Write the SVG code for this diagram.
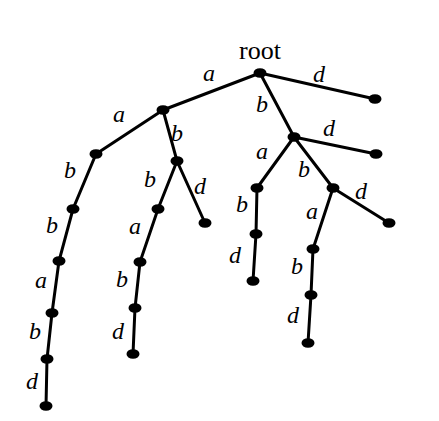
<svg xmlns="http://www.w3.org/2000/svg" width="439" height="421" viewBox="0 0 439 421">
<style>
.e{stroke:#000;stroke-width:3;fill:none;stroke-linecap:round}
.n{fill:#000}
.l{font-family:"Liberation Serif",serif;font-style:italic;font-size:24px;text-anchor:middle;fill:#000}
.r{font-family:"Liberation Serif",serif;font-size:26px;text-anchor:middle;fill:#000}
</style>
<rect width="439" height="421" fill="#fff"/>
<g id="connectors" class="e">
<path d="M260,73 L163,110"/>
<path d="M260,73 L375,99"/>
<path d="M260,73 L294,137"/>
<path d="M294,137 L376,154"/>
<path d="M294,137 L257,188"/>
<path d="M294,137 L333,188"/>
<path d="M333,188 L389,223"/>
<path d="M257,188 L256,234 L253,281"/>
<path d="M333,188 L313,249 L311,295 L308,343"/>
<path d="M163,110 L96,154 L73,209 L59,261 L52,313 L47,359 L46,406"/>
<path d="M163,110 L177,161 L205,223"/>
<path d="M177,161 L158,209 L140,262 L135,308 L133,354"/>
</g>
<g id="root"><ellipse class="n" cx="260" cy="73" rx="6.5" ry="4.8"/><text class="r" x="260" y="59">root</text></g>
<g id="n_d"><ellipse class="n" cx="375" cy="99" rx="6.5" ry="4.8"/></g>
<g id="n_b"><ellipse class="n" cx="294" cy="137" rx="6.5" ry="4.8"/></g>
<g id="n_bd"><ellipse class="n" cx="376" cy="154" rx="6.5" ry="4.8"/></g>
<g id="n_ba"><ellipse class="n" cx="257" cy="188" rx="6.5" ry="4.8"/></g>
<g id="n_bb"><ellipse class="n" cx="333" cy="188" rx="6.5" ry="4.8"/></g>
<g id="n_bbd"><ellipse class="n" cx="389" cy="223" rx="6.5" ry="4.8"/></g>
<g id="n_bab"><ellipse class="n" cx="256" cy="234" rx="6.5" ry="4.8"/></g>
<g id="n_babd"><ellipse class="n" cx="253" cy="281" rx="6.5" ry="4.8"/></g>
<g id="n_bba"><ellipse class="n" cx="313" cy="249" rx="6.5" ry="4.8"/></g>
<g id="n_bbab"><ellipse class="n" cx="311" cy="295" rx="6.5" ry="4.8"/></g>
<g id="n_bbabd"><ellipse class="n" cx="308" cy="343" rx="6.5" ry="4.8"/></g>
<g id="n_a"><ellipse class="n" cx="163" cy="110" rx="6.5" ry="4.8"/></g>
<g id="n_aa"><ellipse class="n" cx="96" cy="154" rx="6.5" ry="4.8"/></g>
<g id="n_aab"><ellipse class="n" cx="73" cy="209" rx="6.5" ry="4.8"/></g>
<g id="n_aabb"><ellipse class="n" cx="59" cy="261" rx="6.5" ry="4.8"/></g>
<g id="n_aabba"><ellipse class="n" cx="52" cy="313" rx="6.5" ry="4.8"/></g>
<g id="n_aabbab"><ellipse class="n" cx="47" cy="359" rx="6.5" ry="4.8"/></g>
<g id="n_aabbabd"><ellipse class="n" cx="46" cy="406" rx="6.5" ry="4.8"/></g>
<g id="n_ab"><ellipse class="n" cx="177" cy="161" rx="6.5" ry="4.8"/></g>
<g id="n_abd"><ellipse class="n" cx="205" cy="223" rx="6.5" ry="4.8"/></g>
<g id="n_abb"><ellipse class="n" cx="158" cy="209" rx="6.5" ry="4.8"/></g>
<g id="n_abba"><ellipse class="n" cx="140" cy="262" rx="6.5" ry="4.8"/></g>
<g id="n_abbab"><ellipse class="n" cx="135" cy="308" rx="6.5" ry="4.8"/></g>
<g id="n_abbabd"><ellipse class="n" cx="133" cy="354" rx="6.5" ry="4.8"/></g>
<g id="labels">
<text class="l" x="209" y="81">a</text>
<text class="l" x="319" y="82">d</text>
<text class="l" x="262" y="112">b</text>
<text class="l" x="329" y="136">d</text>
<text class="l" x="262" y="159">a</text>
<text class="l" x="304" y="177">b</text>
<text class="l" x="361" y="199">d</text>
<text class="l" x="242" y="212">b</text>
<text class="l" x="235" y="263">d</text>
<text class="l" x="312" y="219">a</text>
<text class="l" x="297" y="274">b</text>
<text class="l" x="293" y="323">d</text>
<text class="l" x="119" y="122">a</text>
<text class="l" x="177" y="141">b</text>
<text class="l" x="70" y="178">b</text>
<text class="l" x="150" y="187">b</text>
<text class="l" x="200" y="194">d</text>
<text class="l" x="52" y="233">b</text>
<text class="l" x="41" y="288">a</text>
<text class="l" x="35" y="339">b</text>
<text class="l" x="32" y="389">d</text>
<text class="l" x="135" y="234">a</text>
<text class="l" x="122" y="287">b</text>
<text class="l" x="118" y="339">d</text>
</g>
</svg>
